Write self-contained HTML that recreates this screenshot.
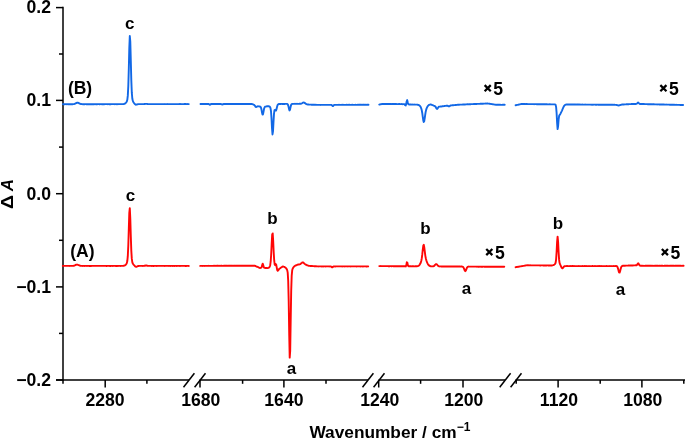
<!DOCTYPE html>
<html><head><meta charset="utf-8"><style>
html,body{margin:0;padding:0;background:#fff;}
body{width:685px;height:439px;overflow:hidden;}
svg{display:block;will-change:transform;}
text{font-family:"Liberation Sans",sans-serif;font-weight:bold;font-size:18px;fill:#000;}
</style></head><body>
<svg width="685" height="439" viewBox="0 0 685 439">
<g stroke="#000" stroke-width="1.5" fill="none" stroke-linecap="butt">
<line x1="63.0" y1="6.85" x2="63.0" y2="380.75" />
<line x1="56" y1="7.6" x2="63.0" y2="7.6" />
<line x1="56" y1="100.4" x2="63.0" y2="100.4" />
<line x1="56" y1="193.7" x2="63.0" y2="193.7" />
<line x1="56" y1="286.9" x2="63.0" y2="286.9" />
<line x1="56" y1="380.0" x2="63.0" y2="380.0" />
<line x1="59" y1="54.0" x2="63.0" y2="54.0" />
<line x1="59" y1="147.1" x2="63.0" y2="147.1" />
<line x1="59" y1="240.3" x2="63.0" y2="240.3" />
<line x1="59" y1="333.4" x2="63.0" y2="333.4" />
<line x1="56" y1="380.0" x2="189" y2="380.0" />
<line x1="199.5" y1="380.0" x2="368" y2="380.0" />
<line x1="378.5" y1="380.0" x2="505" y2="380.0" />
<line x1="515.5" y1="380.0" x2="686" y2="380.0" />
<line x1="183.5" y1="387.3" x2="194.4" y2="373.3" />
<line x1="194.6" y1="387.3" x2="205.5" y2="373.3" />
<line x1="362.5" y1="387.3" x2="373.4" y2="373.3" />
<line x1="373.6" y1="387.3" x2="384.5" y2="373.3" />
<line x1="499.7" y1="387.3" x2="510.6" y2="373.3" />
<line x1="510.6" y1="387.3" x2="521.5" y2="373.3" />
<line x1="105.2" y1="380.0" x2="105.2" y2="387.5" />
<line x1="200.0" y1="380.0" x2="200.0" y2="387.5" />
<line x1="283.9" y1="380.0" x2="283.9" y2="387.5" />
<line x1="378.7" y1="380.0" x2="378.7" y2="387.5" />
<line x1="463.0" y1="380.0" x2="463.0" y2="387.5" />
<line x1="558.1" y1="380.0" x2="558.1" y2="387.5" />
<line x1="641.9" y1="380.0" x2="641.9" y2="387.5" />
<line x1="63.0" y1="380.0" x2="63.0" y2="383.8" />
<line x1="146.9" y1="380.0" x2="146.9" y2="383.8" />
<line x1="242.6" y1="380.0" x2="242.6" y2="383.8" />
<line x1="326.0" y1="380.0" x2="326.0" y2="383.8" />
<line x1="420.6" y1="380.0" x2="420.6" y2="383.8" />
<line x1="516.2" y1="380.0" x2="516.2" y2="383.8" />
<line x1="600.2" y1="380.0" x2="600.2" y2="383.8" />
<line x1="683.8" y1="380.0" x2="683.8" y2="383.8" />
</g>
<g fill="none" stroke="#1268e6" stroke-width="1.9" stroke-linejoin="round" stroke-linecap="round">
<path d="M62.80 104.17 L63.30 104.20 L63.80 104.19 L64.30 104.21 L64.80 104.21 L65.30 104.15 L65.80 104.15 L66.30 104.23 L66.80 104.17 L67.30 104.17 L67.80 104.25 L68.30 104.19 L68.80 104.23 L69.30 104.19 L69.80 104.21 L70.30 104.16 L70.80 104.21 L71.30 104.23 L71.80 104.19 L72.30 104.21 L72.80 104.18 L73.30 104.09 L73.80 104.10 L74.30 103.97 L74.80 103.77 L75.30 103.51 L75.80 103.32 L76.30 103.00 L76.80 102.81 L77.30 102.73 L77.80 102.76 L78.30 102.95 L78.80 103.15 L79.30 103.48 L79.80 103.69 L80.30 103.94 L80.80 104.07 L81.30 104.07 L81.80 104.11 L82.30 104.14 L82.80 104.23 L83.30 104.18 L83.80 104.20 L84.30 104.16 L84.80 104.18 L85.30 104.17 L85.80 104.17 L86.30 104.19 L86.80 104.19 L87.30 104.22 L87.80 104.20 L88.30 104.22 L88.80 104.21 L89.30 104.23 L89.80 104.20 L90.30 104.14 L90.80 104.21 L91.30 104.22 L91.80 104.22 L92.30 104.18 L92.80 104.20 L93.30 104.15 L93.80 104.21 L94.30 104.18 L94.80 104.15 L95.30 104.13 L95.80 104.21 L96.30 104.22 L96.80 104.13 L97.30 104.20 L97.80 104.16 L98.30 104.14 L98.80 104.15 L99.30 104.20 L99.80 104.21 L100.30 104.12 L100.80 104.18 L101.30 104.12 L101.80 104.19 L102.30 104.15 L102.80 104.21 L103.30 104.22 L103.80 104.17 L104.30 104.22 L104.80 104.15 L105.30 104.12 L105.80 104.18 L106.30 104.12 L106.80 104.13 L107.30 104.16 L107.80 104.18 L108.30 104.13 L108.80 104.12 L109.30 104.20 L109.80 104.14 L110.30 104.21 L110.80 104.20 L111.30 104.15 L111.80 104.16 L112.30 104.16 L112.80 104.17 L113.30 104.17 L113.80 104.17 L114.30 104.17 L114.80 104.20 L115.30 104.16 L115.80 104.15 L116.30 104.18 L116.80 104.13 L117.30 104.14 L117.80 104.20 L118.30 104.16 L118.80 104.16 L119.30 104.11 L119.80 104.15 L120.30 104.16 L120.80 104.10 L121.30 104.16 L121.80 104.16 L122.30 104.09 L122.80 104.13 L123.30 104.07 L123.80 104.02 L124.30 103.86 L124.80 103.69 L125.30 103.39 L125.80 102.87 L126.30 102.25 L126.80 101.41 L127.30 99.77 L127.80 95.64 L128.30 86.11 L128.80 68.84 L129.30 48.14 L129.80 36.02 L130.30 41.53 L130.80 60.39 L131.30 80.10 L131.80 92.68 L132.30 98.52 L132.80 100.90 L133.30 101.96 L133.80 102.79 L134.30 103.45 L134.80 103.96 L135.30 104.39 L135.80 104.68 L136.30 104.63 L136.80 104.48 L137.30 104.34 L137.80 104.24 L138.30 104.13 L138.80 104.13 L139.30 104.12 L139.80 104.17 L140.30 104.13 L140.80 104.17 L141.30 104.10 L141.80 104.12 L142.30 104.15 L142.80 104.17 L143.30 104.13 L143.80 104.10 L144.30 104.07 L144.80 104.04 L145.30 103.90 L145.80 103.87 L146.30 103.89 L146.80 103.92 L147.30 104.03 L147.80 104.14 L148.30 104.14 L148.80 104.16 L149.30 104.12 L149.80 104.09 L150.30 104.11 L150.80 104.16 L151.30 104.11 L151.80 104.11 L152.30 104.12 L152.80 104.12 L153.30 104.12 L153.80 104.17 L154.30 104.09 L154.80 104.08 L155.30 104.17 L155.80 104.16 L156.30 104.17 L156.80 104.12 L157.30 104.17 L157.80 104.17 L158.30 104.10 L158.80 104.15 L159.30 104.16 L159.80 104.14 L160.30 104.12 L160.80 104.10 L161.30 104.11 L161.80 104.09 L162.30 104.08 L162.80 104.13 L163.30 104.10 L163.80 104.15 L164.30 104.07 L164.80 104.16 L165.30 104.14 L165.80 104.16 L166.30 104.16 L166.80 104.16 L167.30 104.12 L167.80 104.07 L168.30 104.14 L168.80 104.08 L169.30 104.10 L169.80 104.13 L170.30 104.12 L170.80 104.11 L171.30 104.16 L171.80 104.12 L172.30 104.10 L172.80 104.09 L173.30 104.15 L173.80 104.11 L174.30 104.14 L174.80 104.10 L175.30 104.08 L175.80 104.11 L176.30 104.14 L176.80 104.08 L177.30 104.14 L177.80 104.15 L178.30 104.14 L178.80 104.14 L179.30 104.06 L179.80 104.12 L180.30 104.14 L180.80 104.06 L181.30 104.08 L181.80 104.08 L182.30 104.11 L182.80 104.10 L183.30 104.10 L183.80 104.13 L184.30 104.05 L184.80 104.06 L185.30 104.07 L185.80 104.06 L186.30 104.06 L186.80 104.15 L187.30 104.14 L187.80 104.06 L188.30 104.10 L188.80 104.08"/>
<path d="M200.50 103.98 L201.00 103.99 L201.50 104.01 L202.00 104.01 L202.50 103.99 L203.00 103.97 L203.50 103.98 L204.00 103.96 L204.50 104.01 L205.00 104.02 L205.50 103.99 L206.00 103.96 L206.50 103.97 L207.00 103.99 L207.50 104.01 L208.00 104.03 L208.50 104.00 L209.00 104.19 L209.50 104.59 L210.00 104.78 L210.50 104.38 L211.00 104.07 L211.50 104.03 L212.00 103.99 L212.50 104.02 L213.00 104.00 L213.50 103.97 L214.00 104.00 L214.50 104.02 L215.00 103.96 L215.50 103.99 L216.00 103.99 L216.50 104.04 L217.00 104.04 L217.50 103.99 L218.00 104.04 L218.50 104.03 L219.00 103.98 L219.50 104.00 L220.00 103.96 L220.50 104.03 L221.00 104.04 L221.50 104.21 L222.00 104.53 L222.50 104.57 L223.00 104.25 L223.50 104.04 L224.00 103.96 L224.50 104.01 L225.00 103.95 L225.50 103.96 L226.00 104.03 L226.50 103.95 L227.00 103.96 L227.50 103.96 L228.00 104.04 L228.50 103.97 L229.00 103.95 L229.50 104.03 L230.00 103.96 L230.50 104.03 L231.00 104.02 L231.50 104.03 L232.00 104.05 L232.50 104.01 L233.00 104.03 L233.50 103.95 L234.00 104.03 L234.50 104.00 L235.00 104.02 L235.50 103.96 L236.00 104.02 L236.50 104.04 L237.00 103.96 L237.50 103.98 L238.00 104.01 L238.50 104.03 L239.00 103.97 L239.50 103.97 L240.00 103.97 L240.50 104.01 L241.00 104.03 L241.50 103.99 L242.00 103.99 L242.50 103.99 L243.00 103.99 L243.50 103.99 L244.00 103.96 L244.50 104.00 L245.00 104.05 L245.50 103.99 L246.00 104.02 L246.50 103.97 L247.00 104.02 L247.50 104.03 L248.00 104.02 L248.50 104.00 L249.00 104.00 L249.50 104.01 L250.00 104.04 L250.50 103.96 L251.00 103.96 L251.50 104.02 L252.00 104.04 L252.50 104.22 L253.00 104.43 L253.50 104.69 L254.00 104.88 L254.50 105.25 L255.00 105.86 L255.50 106.65 L256.00 107.03 L256.50 106.85 L257.00 106.60 L257.50 106.39 L258.00 106.29 L258.50 106.37 L259.00 106.39 L259.50 106.49 L260.00 106.56 L260.50 106.82 L261.00 107.70 L261.50 109.61 L262.00 112.49 L262.50 114.63 L263.00 114.33 L263.50 111.87 L264.00 109.10 L264.50 107.44 L265.00 106.70 L265.50 106.60 L266.00 106.52 L266.50 106.39 L267.00 106.27 L267.50 106.22 L268.00 106.18 L268.50 106.18 L269.00 106.29 L269.50 106.54 L270.00 106.97 L270.50 108.06 L271.00 111.25 L271.50 118.31 L272.00 128.15 L272.50 134.44 L273.00 131.43 L273.50 122.01 L274.00 113.65 L274.50 110.03 L275.00 109.86 L275.50 110.65 L276.00 110.62 L276.50 109.16 L277.00 107.02 L277.50 105.35 L278.00 104.49 L278.50 104.16 L279.00 104.00 L279.50 104.03 L280.00 103.96 L280.50 103.97 L281.00 103.99 L281.50 103.92 L282.00 103.92 L282.50 103.99 L283.00 103.93 L283.50 103.93 L284.00 103.95 L284.50 103.96 L285.00 103.88 L285.50 103.91 L286.00 103.92 L286.50 103.92 L287.00 103.92 L287.50 104.13 L288.00 104.85 L288.50 106.46 L289.00 108.88 L289.50 110.40 L290.00 109.69 L290.50 107.41 L291.00 105.27 L291.50 104.31 L292.00 103.99 L292.50 103.84 L293.00 103.91 L293.50 103.85 L294.00 103.88 L294.50 103.87 L295.00 103.82 L295.50 103.86 L296.00 103.85 L296.50 103.86 L297.00 103.80 L297.50 103.85 L298.00 103.86 L298.50 103.83 L299.00 103.81 L299.50 103.75 L300.00 103.76 L300.50 103.73 L301.00 103.69 L301.50 103.54 L302.00 103.28 L302.50 102.95 L303.00 102.72 L303.50 102.56 L304.00 102.54 L304.50 102.83 L305.00 103.15 L305.50 103.49 L306.00 103.91 L306.50 104.09 L307.00 104.29 L307.50 104.44 L308.00 104.50 L308.50 104.56 L309.00 104.61 L309.50 104.61 L310.00 104.61 L310.50 104.62 L311.00 104.62 L311.50 104.70 L312.00 104.73 L312.50 104.72 L313.00 104.76 L313.50 104.74 L314.00 104.74 L314.50 104.77 L315.00 104.84 L315.50 104.77 L316.00 104.83 L316.50 104.82 L317.00 104.89 L317.50 104.87 L318.00 104.88 L318.50 104.89 L319.00 104.90 L319.50 104.92 L320.00 104.88 L320.50 104.93 L321.00 104.86 L321.50 104.87 L322.00 104.85 L322.50 104.85 L323.00 104.92 L323.50 104.91 L324.00 104.86 L324.50 104.86 L325.00 104.88 L325.50 104.91 L326.00 104.92 L326.50 104.91 L327.00 104.89 L327.50 104.85 L328.00 104.87 L328.50 104.85 L329.00 104.88 L329.50 104.88 L330.00 104.85 L330.50 104.85 L331.00 104.92 L331.50 104.94 L332.00 105.40 L332.50 105.97 L333.00 106.05 L333.50 105.47 L334.00 105.04 L334.50 104.90 L335.00 104.88 L335.50 104.91 L336.00 104.88 L336.50 104.84 L337.00 104.90 L337.50 104.86 L338.00 104.87 L338.50 104.88 L339.00 104.81 L339.50 104.88 L340.00 104.87 L340.50 104.85 L341.00 104.86 L341.50 104.85 L342.00 104.82 L342.50 104.85 L343.00 104.80 L343.50 104.85 L344.00 104.86 L344.50 104.84 L345.00 104.85 L345.50 104.89 L346.00 104.88 L346.50 104.81 L347.00 104.87 L347.50 104.85 L348.00 104.80 L348.50 104.83 L349.00 104.81 L349.50 104.80 L350.00 104.84 L350.50 104.88 L351.00 104.82 L351.50 104.87 L352.00 104.85 L352.50 104.79 L353.00 104.87 L353.50 104.84 L354.00 104.87 L354.50 104.85 L355.00 104.85 L355.50 104.81 L356.00 104.86 L356.50 104.87 L357.00 104.86 L357.50 104.82 L358.00 104.85 L358.50 104.82 L359.00 104.78 L359.50 104.77 L360.00 104.77 L360.50 104.79 L361.00 104.78 L361.50 104.81 L362.00 104.83 L362.50 104.82 L363.00 104.80 L363.50 104.82 L364.00 104.79 L364.50 104.80 L365.00 104.83 L365.50 104.80 L366.00 104.77 L366.50 104.84 L367.00 104.82 L367.50 104.79 L368.00 104.79 L368.50 104.80"/>
<path d="M379.20 104.61 L379.70 104.47 L380.20 104.34 L380.70 104.25 L381.20 104.20 L381.70 104.03 L382.20 104.00 L382.70 103.97 L383.20 103.98 L383.70 103.98 L384.20 104.00 L384.70 103.98 L385.20 103.97 L385.70 103.98 L386.20 103.99 L386.70 104.02 L387.20 103.98 L387.70 103.98 L388.20 104.03 L388.70 104.02 L389.20 104.06 L389.70 103.99 L390.20 104.03 L390.70 104.03 L391.20 104.00 L391.70 104.10 L392.20 104.02 L392.70 104.01 L393.20 104.05 L393.70 104.02 L394.20 104.07 L394.70 104.05 L395.20 104.03 L395.70 104.02 L396.20 104.09 L396.70 104.05 L397.20 104.10 L397.70 104.08 L398.20 104.12 L398.70 104.06 L399.20 104.06 L399.70 104.07 L400.20 104.12 L400.70 104.11 L401.20 104.08 L401.70 104.06 L402.20 104.13 L402.70 104.18 L403.20 104.17 L403.70 104.14 L404.20 104.19 L404.70 104.47 L405.20 105.24 L405.70 105.52 L406.20 104.08 L406.70 101.28 L407.20 100.10 L407.70 102.21 L408.20 104.07 L408.70 104.41 L409.20 104.49 L409.70 104.53 L410.20 104.55 L410.70 104.49 L411.20 104.54 L411.70 104.60 L412.20 104.64 L412.70 104.56 L413.20 104.58 L413.70 104.64 L414.20 104.56 L414.70 104.59 L415.20 104.59 L415.70 104.62 L416.20 104.66 L416.70 104.60 L417.20 104.69 L417.70 104.75 L418.20 104.86 L418.70 105.01 L419.20 105.32 L419.70 105.68 L420.20 106.27 L420.70 107.07 L421.20 108.29 L421.70 110.03 L422.20 112.71 L422.70 116.32 L423.20 119.98 L423.70 121.98 L424.20 121.30 L424.70 118.35 L425.20 114.76 L425.70 111.69 L426.20 109.63 L426.70 108.11 L427.20 107.08 L427.70 106.28 L428.20 105.65 L428.70 105.14 L429.20 104.84 L429.70 104.70 L430.20 104.56 L430.70 104.51 L431.20 104.57 L431.70 104.74 L432.20 105.01 L432.70 105.22 L433.20 105.41 L433.70 105.65 L434.20 105.81 L434.70 105.99 L435.20 106.38 L435.70 106.97 L436.20 107.99 L436.70 108.77 L437.20 108.92 L437.70 108.38 L438.20 107.49 L438.70 106.85 L439.20 106.60 L439.70 106.61 L440.20 106.59 L440.70 106.46 L441.20 106.42 L441.70 106.43 L442.20 106.29 L442.70 106.26 L443.20 106.18 L443.70 106.15 L444.20 106.07 L444.70 106.02 L445.20 105.93 L445.70 105.84 L446.20 105.77 L446.70 105.71 L447.20 105.78 L447.70 105.82 L448.20 106.04 L448.70 106.35 L449.20 106.27 L449.70 106.06 L450.20 105.66 L450.70 105.48 L451.20 105.35 L451.70 105.35 L452.20 105.29 L452.70 105.25 L453.20 105.22 L453.70 105.19 L454.20 105.10 L454.70 105.08 L455.20 105.02 L455.70 104.95 L456.20 104.98 L456.70 104.92 L457.20 104.90 L457.70 104.80 L458.20 104.79 L458.70 104.76 L459.20 104.76 L459.70 104.67 L460.20 104.67 L460.70 104.66 L461.20 104.60 L461.70 104.62 L462.20 104.61 L462.70 104.56 L463.20 104.55 L463.70 104.53 L464.20 104.46 L464.70 104.45 L465.20 104.49 L465.70 104.40 L466.20 104.38 L466.70 104.32 L467.20 104.31 L467.70 104.28 L468.20 104.33 L468.70 104.29 L469.20 104.28 L469.70 104.26 L470.20 104.20 L470.70 104.22 L471.20 104.16 L471.70 104.13 L472.20 104.16 L472.70 104.14 L473.20 104.12 L473.70 104.05 L474.20 104.06 L474.70 104.01 L475.20 104.05 L475.70 104.02 L476.20 103.94 L476.70 103.98 L477.20 103.89 L477.70 103.86 L478.20 103.90 L478.70 103.84 L479.20 103.84 L479.70 103.84 L480.20 103.76 L480.70 103.81 L481.20 103.74 L481.70 103.74 L482.20 103.71 L482.70 103.73 L483.20 103.71 L483.70 103.65 L484.20 103.61 L484.70 103.61 L485.20 103.60 L485.70 103.55 L486.20 103.54 L486.70 103.58 L487.20 103.55 L487.70 103.56 L488.20 103.58 L488.70 103.65 L489.20 103.68 L489.70 103.74 L490.20 103.84 L490.70 103.94 L491.20 104.02 L491.70 104.11 L492.20 104.17 L492.70 104.30 L493.20 104.32 L493.70 104.42 L494.20 104.55 L494.70 104.62 L495.20 104.65 L495.70 104.73 L496.20 104.83 L496.70 104.75 L497.20 104.76 L497.70 104.80 L498.20 104.80 L498.70 104.77 L499.20 104.76 L499.70 104.77 L500.20 104.83 L500.70 104.80 L501.20 104.85 L501.70 104.83 L502.20 104.85 L502.70 104.75 L503.20 104.77 L503.70 104.75 L504.20 104.79 L504.70 104.78"/>
<path d="M515.60 105.26 L516.10 105.19 L516.60 105.03 L517.10 104.94 L517.60 104.82 L518.10 104.76 L518.60 104.61 L519.10 104.48 L519.60 104.34 L520.10 104.27 L520.60 104.17 L521.10 104.06 L521.60 104.04 L522.10 104.04 L522.60 103.99 L523.10 103.98 L523.60 104.05 L524.10 104.06 L524.60 104.04 L525.10 104.08 L525.60 104.06 L526.10 104.03 L526.60 104.03 L527.10 104.02 L527.60 104.09 L528.10 104.12 L528.60 104.13 L529.10 104.09 L529.60 104.12 L530.10 104.15 L530.60 104.14 L531.10 104.13 L531.60 104.11 L532.10 104.13 L532.60 104.10 L533.10 104.11 L533.60 104.16 L534.10 104.20 L534.60 104.16 L535.10 104.15 L535.60 104.15 L536.10 104.17 L536.60 104.21 L537.10 104.18 L537.60 104.24 L538.10 104.16 L538.60 104.19 L539.10 104.21 L539.60 104.21 L540.10 104.26 L540.60 104.26 L541.10 104.28 L541.60 104.25 L542.10 104.20 L542.60 104.26 L543.10 104.26 L543.60 104.26 L544.10 104.25 L544.60 104.30 L545.10 104.32 L545.60 104.25 L546.10 104.31 L546.60 104.29 L547.10 104.31 L547.60 104.35 L548.10 104.36 L548.60 104.34 L549.10 104.30 L549.60 104.38 L550.10 104.31 L550.60 104.34 L551.10 104.39 L551.60 104.34 L552.10 104.34 L552.60 104.42 L553.10 104.42 L553.60 104.37 L554.10 104.38 L554.60 104.39 L555.10 104.44 L555.60 104.85 L556.10 106.92 L556.60 112.88 L557.10 122.76 L557.60 129.12 L558.10 126.30 L558.60 119.72 L559.10 116.01 L559.60 115.00 L560.10 114.34 L560.60 113.45 L561.10 112.37 L561.60 111.38 L562.10 110.33 L562.60 109.03 L563.10 107.84 L563.60 106.79 L564.10 105.92 L564.60 105.34 L565.10 104.90 L565.60 104.68 L566.10 104.63 L566.60 104.49 L567.10 104.54 L567.60 104.46 L568.10 104.54 L568.60 104.51 L569.10 104.51 L569.60 104.46 L570.10 104.46 L570.60 104.53 L571.10 104.47 L571.60 104.48 L572.10 104.55 L572.60 104.55 L573.10 104.48 L573.60 104.57 L574.10 104.53 L574.60 104.52 L575.10 104.49 L575.60 104.53 L576.10 104.59 L576.60 104.52 L577.10 104.51 L577.60 104.52 L578.10 104.52 L578.60 104.54 L579.10 104.60 L579.60 104.52 L580.10 104.54 L580.60 104.61 L581.10 104.62 L581.60 104.63 L582.10 104.56 L582.60 104.57 L583.10 104.63 L583.60 104.59 L584.10 104.61 L584.60 104.58 L585.10 104.55 L585.60 104.59 L586.10 104.63 L586.60 104.64 L587.10 104.62 L587.60 104.61 L588.10 104.62 L588.60 104.62 L589.10 104.63 L589.60 104.66 L590.10 104.60 L590.60 104.65 L591.10 104.68 L591.60 104.68 L592.10 104.62 L592.60 104.70 L593.10 104.69 L593.60 104.62 L594.10 104.64 L594.60 104.63 L595.10 104.62 L595.60 104.72 L596.10 104.66 L596.60 104.71 L597.10 104.64 L597.60 104.64 L598.10 104.72 L598.60 104.72 L599.10 104.74 L599.60 104.72 L600.10 104.70 L600.60 104.73 L601.10 104.67 L601.60 104.71 L602.10 104.71 L602.60 104.68 L603.10 104.73 L603.60 104.71 L604.10 104.73 L604.60 104.72 L605.10 104.72 L605.60 104.72 L606.10 104.75 L606.60 104.79 L607.10 104.79 L607.60 104.79 L608.10 104.79 L608.60 104.74 L609.10 104.81 L609.60 104.74 L610.10 104.73 L610.60 104.77 L611.10 104.80 L611.60 104.76 L612.10 104.80 L612.60 104.76 L613.10 104.83 L613.60 104.79 L614.10 104.80 L614.60 104.81 L615.10 104.86 L615.60 104.89 L616.10 104.90 L616.60 104.99 L617.10 105.14 L617.60 105.23 L618.10 105.39 L618.60 105.48 L619.10 105.42 L619.60 105.21 L620.10 105.10 L620.60 104.87 L621.10 104.77 L621.60 104.60 L622.10 104.51 L622.60 104.50 L623.10 104.50 L623.60 104.43 L624.10 104.45 L624.60 104.41 L625.10 104.35 L625.60 104.33 L626.10 104.32 L626.60 104.29 L627.10 104.27 L627.60 104.28 L628.10 104.28 L628.60 104.23 L629.10 104.16 L629.60 104.15 L630.10 104.14 L630.60 104.14 L631.10 104.07 L631.60 104.05 L632.10 104.05 L632.60 104.02 L633.10 103.98 L633.60 104.01 L634.10 104.02 L634.60 103.96 L635.10 103.96 L635.60 103.95 L636.10 103.91 L636.60 103.81 L637.10 103.42 L637.60 102.87 L638.10 102.51 L638.60 102.91 L639.10 103.46 L639.60 103.84 L640.10 104.01 L640.60 103.98 L641.10 103.99 L641.60 104.06 L642.10 104.05 L642.60 104.01 L643.10 104.02 L643.60 104.06 L644.10 104.04 L644.60 104.13 L645.10 104.08 L645.60 104.10 L646.10 104.13 L646.60 104.15 L647.10 104.15 L647.60 104.18 L648.10 104.20 L648.60 104.19 L649.10 104.17 L649.60 104.27 L650.10 104.25 L650.60 104.20 L651.10 104.25 L651.60 104.29 L652.10 104.33 L652.60 104.25 L653.10 104.25 L653.60 104.31 L654.10 104.32 L654.60 104.37 L655.10 104.38 L655.60 104.34 L656.10 104.36 L656.60 104.39 L657.10 104.43 L657.60 104.38 L658.10 104.41 L658.60 104.39 L659.10 104.45 L659.60 104.40 L660.10 104.51 L660.60 104.48 L661.10 104.49 L661.60 104.46 L662.10 104.48 L662.60 104.52 L663.10 104.57 L663.60 104.55 L664.10 104.54 L664.60 104.62 L665.10 104.60 L665.60 104.60 L666.10 104.57 L666.60 104.60 L667.10 104.67 L667.60 104.60 L668.10 104.65 L668.60 104.67 L669.10 104.66 L669.60 104.71 L670.10 104.74 L670.60 104.75 L671.10 104.75 L671.60 104.70 L672.10 104.70 L672.60 104.75 L673.10 104.75 L673.60 104.75 L674.10 104.83 L674.60 104.78 L675.10 104.85 L675.60 104.87 L676.10 104.80 L676.60 104.89 L677.10 104.85 L677.60 104.84 L678.10 104.85 L678.60 104.85 L679.10 104.91 L679.60 104.91 L680.10 104.97 L680.60 104.98 L681.10 104.91 L681.60 104.96 L682.10 104.97 L682.60 104.96 L683.10 104.98"/>
</g>
<g fill="none" stroke="#ff0606" stroke-width="1.9" stroke-linejoin="round" stroke-linecap="round">
<path d="M62.80 265.88 L63.30 265.92 L63.80 265.88 L64.30 265.86 L64.80 265.87 L65.30 265.89 L65.80 265.91 L66.30 265.87 L66.80 265.92 L67.30 265.87 L67.80 265.92 L68.30 265.91 L68.80 265.87 L69.30 265.93 L69.80 265.89 L70.30 265.90 L70.80 265.91 L71.30 265.91 L71.80 265.89 L72.30 265.84 L72.80 265.89 L73.30 265.85 L73.80 265.72 L74.30 265.59 L74.80 265.37 L75.30 265.20 L75.80 264.94 L76.30 264.69 L76.80 264.64 L77.30 264.67 L77.80 264.74 L78.30 265.02 L78.80 265.21 L79.30 265.41 L79.80 265.64 L80.30 265.73 L80.80 265.85 L81.30 265.87 L81.80 265.85 L82.30 265.90 L82.80 265.93 L83.30 265.90 L83.80 265.90 L84.30 265.94 L84.80 265.89 L85.30 265.90 L85.80 265.91 L86.30 265.93 L86.80 265.87 L87.30 265.86 L87.80 265.93 L88.30 265.91 L88.80 265.88 L89.30 265.94 L89.80 265.94 L90.30 265.90 L90.80 265.95 L91.30 265.93 L91.80 265.92 L92.30 265.88 L92.80 265.85 L93.30 265.92 L93.80 265.92 L94.30 265.89 L94.80 265.90 L95.30 265.91 L95.80 265.87 L96.30 265.92 L96.80 265.91 L97.30 265.89 L97.80 265.86 L98.30 265.91 L98.80 265.88 L99.30 265.92 L99.80 265.87 L100.30 265.89 L100.80 265.87 L101.30 265.89 L101.80 265.91 L102.30 265.86 L102.80 265.86 L103.30 265.90 L103.80 265.87 L104.30 265.90 L104.80 265.87 L105.30 265.86 L105.80 265.90 L106.30 265.94 L106.80 265.94 L107.30 265.90 L107.80 265.89 L108.30 265.86 L108.80 265.88 L109.30 265.88 L109.80 265.94 L110.30 265.86 L110.80 265.94 L111.30 265.90 L111.80 265.89 L112.30 265.88 L112.80 265.95 L113.30 265.87 L113.80 265.91 L114.30 265.90 L114.80 265.87 L115.30 265.87 L115.80 265.95 L116.30 265.93 L116.80 265.92 L117.30 265.94 L117.80 265.86 L118.30 265.92 L118.80 265.93 L119.30 265.87 L119.80 265.90 L120.30 265.95 L120.80 265.88 L121.30 265.92 L121.80 265.86 L122.30 265.90 L122.80 265.83 L123.30 265.81 L123.80 265.72 L124.30 265.64 L124.80 265.42 L125.30 265.09 L125.80 264.67 L126.30 264.03 L126.80 263.12 L127.30 261.08 L127.80 256.17 L128.30 245.50 L128.80 228.83 L129.30 212.84 L129.80 208.19 L130.30 218.49 L130.80 235.94 L131.30 250.61 L131.80 258.68 L132.30 262.16 L132.80 263.58 L133.30 264.36 L133.80 264.92 L134.30 265.42 L134.80 265.98 L135.30 266.47 L135.80 266.79 L136.30 266.76 L136.80 266.56 L137.30 266.36 L137.80 266.12 L138.30 265.97 L138.80 265.94 L139.30 265.87 L139.80 265.90 L140.30 265.92 L140.80 265.91 L141.30 265.87 L141.80 265.86 L142.30 265.91 L142.80 265.94 L143.30 265.86 L143.80 265.84 L144.30 265.81 L144.80 265.77 L145.30 265.55 L145.80 265.41 L146.30 265.48 L146.80 265.61 L147.30 265.74 L147.80 265.88 L148.30 265.84 L148.80 265.88 L149.30 265.92 L149.80 265.87 L150.30 265.85 L150.80 265.90 L151.30 265.88 L151.80 265.95 L152.30 265.86 L152.80 265.93 L153.30 265.89 L153.80 265.93 L154.30 265.89 L154.80 265.92 L155.30 265.88 L155.80 265.87 L156.30 265.90 L156.80 265.93 L157.30 265.88 L157.80 265.87 L158.30 265.89 L158.80 265.86 L159.30 265.88 L159.80 265.91 L160.30 265.90 L160.80 265.91 L161.30 265.88 L161.80 265.85 L162.30 265.85 L162.80 265.88 L163.30 265.87 L163.80 265.91 L164.30 265.88 L164.80 265.93 L165.30 265.91 L165.80 265.92 L166.30 265.92 L166.80 265.90 L167.30 265.89 L167.80 265.88 L168.30 265.86 L168.80 265.93 L169.30 265.90 L169.80 265.86 L170.30 265.94 L170.80 265.91 L171.30 265.91 L171.80 265.89 L172.30 265.86 L172.80 265.95 L173.30 265.87 L173.80 265.89 L174.30 265.95 L174.80 265.86 L175.30 265.90 L175.80 265.90 L176.30 265.87 L176.80 265.94 L177.30 265.89 L177.80 265.85 L178.30 265.90 L178.80 265.85 L179.30 265.92 L179.80 265.94 L180.30 265.94 L180.80 265.85 L181.30 265.92 L181.80 265.88 L182.30 265.90 L182.80 265.88 L183.30 265.88 L183.80 265.86 L184.30 265.91 L184.80 265.86 L185.30 265.95 L185.80 265.85 L186.30 265.95 L186.80 265.87 L187.30 265.86 L187.80 265.92 L188.30 265.90 L188.80 265.93"/>
<path d="M200.20 265.90 L200.70 265.91 L201.20 265.85 L201.70 265.91 L202.20 265.89 L202.70 265.94 L203.20 265.84 L203.70 265.84 L204.20 265.90 L204.70 265.93 L205.20 265.87 L205.70 265.90 L206.20 265.88 L206.70 265.87 L207.20 265.87 L207.70 265.88 L208.20 265.82 L208.70 265.85 L209.20 265.89 L209.70 265.84 L210.20 265.86 L210.70 265.84 L211.20 265.85 L211.70 265.87 L212.20 265.88 L212.70 265.90 L213.20 265.85 L213.70 265.82 L214.20 265.83 L214.70 265.80 L215.20 265.82 L215.70 265.85 L216.20 265.85 L216.70 265.81 L217.20 265.81 L217.70 265.80 L218.20 265.80 L218.70 265.83 L219.20 265.81 L219.70 265.87 L220.20 265.83 L220.70 265.81 L221.20 265.82 L221.70 265.78 L222.20 265.84 L222.70 265.84 L223.20 265.80 L223.70 265.84 L224.20 265.79 L224.70 265.78 L225.20 265.78 L225.70 265.78 L226.20 265.82 L226.70 265.82 L227.20 265.82 L227.70 265.76 L228.20 265.82 L228.70 265.79 L229.20 265.78 L229.70 265.79 L230.20 265.78 L230.70 265.76 L231.20 265.78 L231.70 265.80 L232.20 265.80 L232.70 265.82 L233.20 265.75 L233.70 265.82 L234.20 265.81 L234.70 265.80 L235.20 265.82 L235.70 265.73 L236.20 265.80 L236.70 265.81 L237.20 265.73 L237.70 265.77 L238.20 265.81 L238.70 265.74 L239.20 265.79 L239.70 265.80 L240.20 265.75 L240.70 265.72 L241.20 265.72 L241.70 265.78 L242.20 265.74 L242.70 265.73 L243.20 265.74 L243.70 265.78 L244.20 265.71 L244.70 265.69 L245.20 265.78 L245.70 265.72 L246.20 265.72 L246.70 265.78 L247.20 265.71 L247.70 265.69 L248.20 265.76 L248.70 265.70 L249.20 265.69 L249.70 265.76 L250.20 265.69 L250.70 265.76 L251.20 265.70 L251.70 265.69 L252.20 265.68 L252.70 265.71 L253.20 265.71 L253.70 265.69 L254.20 265.70 L254.70 265.68 L255.20 265.83 L255.70 266.09 L256.20 266.31 L256.70 266.56 L257.20 266.73 L257.70 267.00 L258.20 267.23 L258.70 267.47 L259.20 267.80 L259.70 267.94 L260.20 267.93 L260.70 267.88 L261.20 267.72 L261.70 267.04 L262.20 265.02 L262.70 263.67 L263.20 265.02 L263.70 266.99 L264.20 267.74 L264.70 267.81 L265.20 267.95 L265.70 267.95 L266.20 268.03 L266.70 268.01 L267.20 268.10 L267.70 268.01 L268.20 267.90 L268.70 267.75 L269.20 267.42 L269.70 266.78 L270.20 265.21 L270.70 261.49 L271.20 253.92 L271.70 243.33 L272.20 234.36 L272.70 233.42 L273.20 241.25 L273.70 252.17 L274.20 260.49 L274.70 264.56 L275.20 265.14 L275.70 264.11 L276.20 264.55 L276.70 267.32 L277.20 269.96 L277.70 270.86 L278.20 270.41 L278.70 269.58 L279.20 268.97 L279.70 268.51 L280.20 268.21 L280.70 267.83 L281.20 267.48 L281.70 267.15 L282.20 266.85 L282.70 266.46 L283.20 266.53 L283.70 266.72 L284.20 266.89 L284.70 267.18 L285.20 267.48 L285.70 267.87 L286.20 268.38 L286.70 269.09 L287.20 270.15 L287.70 272.66 L288.20 280.88 L288.70 301.36 L289.20 333.80 L289.70 357.65 L290.20 350.84 L290.70 319.86 L291.20 290.65 L291.70 275.59 L292.20 270.34 L292.70 268.59 L293.20 267.68 L293.70 267.01 L294.20 266.40 L294.70 266.03 L295.20 265.69 L295.70 265.50 L296.20 265.24 L296.70 265.05 L297.20 264.85 L297.70 264.67 L298.20 264.51 L298.70 264.53 L299.20 264.45 L299.70 264.29 L300.20 264.15 L300.70 263.73 L301.20 263.28 L301.70 262.89 L302.20 262.48 L302.70 262.39 L303.20 262.49 L303.70 262.90 L304.20 263.46 L304.70 263.88 L305.20 264.30 L305.70 264.60 L306.20 264.74 L306.70 265.04 L307.20 265.25 L307.70 265.43 L308.20 265.63 L308.70 265.81 L309.20 265.86 L309.70 265.91 L310.20 265.97 L310.70 266.04 L311.20 265.99 L311.70 266.06 L312.20 266.04 L312.70 266.14 L313.20 266.13 L313.70 266.16 L314.20 266.21 L314.70 266.18 L315.20 266.27 L315.70 266.30 L316.20 266.34 L316.70 266.31 L317.20 266.33 L317.70 266.35 L318.20 266.44 L318.70 266.39 L319.20 266.39 L319.70 266.40 L320.20 266.42 L320.70 266.38 L321.20 266.38 L321.70 266.43 L322.20 266.43 L322.70 266.38 L323.20 266.36 L323.70 266.44 L324.20 266.42 L324.70 266.41 L325.20 266.39 L325.70 266.45 L326.20 266.39 L326.70 266.37 L327.20 266.36 L327.70 266.39 L328.20 266.41 L328.70 266.39 L329.20 266.44 L329.70 266.42 L330.20 266.40 L330.70 266.46 L331.20 266.66 L331.70 267.12 L332.20 267.40 L332.70 267.11 L333.20 266.65 L333.70 266.48 L334.20 266.37 L334.70 266.43 L335.20 266.38 L335.70 266.43 L336.20 266.36 L336.70 266.40 L337.20 266.39 L337.70 266.42 L338.20 266.37 L338.70 266.38 L339.20 266.36 L339.70 266.41 L340.20 266.41 L340.70 266.35 L341.20 266.37 L341.70 266.37 L342.20 266.45 L342.70 266.40 L343.20 266.41 L343.70 266.38 L344.20 266.42 L344.70 266.43 L345.20 266.42 L345.70 266.35 L346.20 266.39 L346.70 266.40 L347.20 266.35 L347.70 266.43 L348.20 266.38 L348.70 266.38 L349.20 266.41 L349.70 266.41 L350.20 266.40 L350.70 266.44 L351.20 266.40 L351.70 266.38 L352.20 266.36 L352.70 266.41 L353.20 266.39 L353.70 266.40 L354.20 266.38 L354.70 266.35 L355.20 266.35 L355.70 266.37 L356.20 266.36 L356.70 266.44 L357.20 266.41 L357.70 266.37 L358.20 266.42 L358.70 266.41 L359.20 266.36 L359.70 266.43 L360.20 266.37 L360.70 266.45 L361.20 266.36 L361.70 266.38 L362.20 266.37 L362.70 266.44 L363.20 266.43 L363.70 266.41 L364.20 266.36 L364.70 266.39 L365.20 266.42 L365.70 266.36 L366.20 266.44 L366.70 266.43 L367.20 266.44 L367.70 266.42 L368.20 266.41"/>
<path d="M379.30 266.15 L379.80 266.08 L380.30 266.09 L380.80 266.07 L381.30 266.08 L381.80 266.14 L382.30 266.08 L382.80 266.14 L383.30 266.11 L383.80 266.16 L384.30 266.15 L384.80 266.15 L385.30 266.17 L385.80 266.09 L386.30 266.12 L386.80 266.13 L387.30 266.14 L387.80 266.16 L388.30 266.19 L388.80 266.18 L389.30 266.20 L389.80 266.18 L390.30 266.15 L390.80 266.17 L391.30 266.19 L391.80 266.20 L392.30 266.16 L392.80 266.16 L393.30 266.19 L393.80 266.15 L394.30 266.22 L394.80 266.14 L395.30 266.20 L395.80 266.19 L396.30 266.16 L396.80 266.20 L397.30 266.20 L397.80 266.25 L398.30 266.24 L398.80 266.22 L399.30 266.25 L399.80 266.25 L400.30 266.18 L400.80 266.25 L401.30 266.26 L401.80 266.27 L402.30 266.25 L402.80 266.22 L403.30 266.20 L403.80 266.25 L404.30 266.21 L404.80 266.27 L405.30 266.29 L405.80 266.45 L406.30 265.23 L406.80 262.31 L407.30 262.55 L407.80 265.02 L408.30 266.10 L408.80 266.26 L409.30 266.26 L409.80 266.28 L410.30 266.28 L410.80 266.25 L411.30 266.33 L411.80 266.32 L412.30 266.31 L412.80 266.27 L413.30 266.26 L413.80 266.32 L414.30 266.33 L414.80 266.31 L415.30 266.26 L415.80 266.31 L416.30 266.27 L416.80 266.22 L417.30 266.18 L417.80 266.05 L418.30 265.88 L418.80 265.59 L419.30 265.16 L419.80 264.43 L420.30 263.62 L420.80 262.50 L421.30 260.79 L421.80 258.15 L422.30 254.21 L422.80 249.33 L423.30 245.60 L423.80 244.86 L424.30 247.50 L424.80 251.71 L425.30 255.60 L425.80 258.29 L426.30 260.21 L426.80 261.63 L427.30 262.90 L427.80 263.90 L428.30 264.66 L428.80 265.29 L429.30 265.68 L429.80 265.98 L430.30 266.12 L430.80 266.30 L431.30 266.35 L431.80 266.39 L432.30 266.33 L432.80 266.38 L433.30 266.23 L433.80 266.10 L434.30 265.75 L434.80 265.20 L435.30 264.67 L435.80 264.28 L436.30 264.14 L436.80 264.37 L437.30 264.94 L437.80 265.47 L438.30 265.97 L438.80 266.20 L439.30 266.31 L439.80 266.46 L440.30 266.39 L440.80 266.42 L441.30 266.47 L441.80 266.41 L442.30 266.46 L442.80 266.49 L443.30 266.47 L443.80 266.45 L444.30 266.49 L444.80 266.50 L445.30 266.48 L445.80 266.48 L446.30 266.46 L446.80 266.47 L447.30 266.53 L447.80 266.53 L448.30 266.44 L448.80 266.46 L449.30 266.46 L449.80 266.52 L450.30 266.47 L450.80 266.47 L451.30 266.53 L451.80 266.47 L452.30 266.56 L452.80 266.51 L453.30 266.55 L453.80 266.55 L454.30 266.49 L454.80 266.55 L455.30 266.52 L455.80 266.50 L456.30 266.49 L456.80 266.55 L457.30 266.54 L457.80 266.52 L458.30 266.57 L458.80 266.51 L459.30 266.54 L459.80 266.51 L460.30 266.54 L460.80 266.59 L461.30 266.56 L461.80 266.54 L462.30 266.59 L462.80 266.78 L463.30 267.17 L463.80 268.10 L464.30 269.32 L464.80 270.67 L465.30 271.19 L465.80 270.68 L466.30 269.36 L466.80 268.04 L467.30 267.18 L467.80 266.81 L468.30 266.60 L468.80 266.57 L469.30 266.63 L469.80 266.64 L470.30 266.64 L470.80 266.65 L471.30 266.62 L471.80 266.65 L472.30 266.64 L472.80 266.63 L473.30 266.62 L473.80 266.58 L474.30 266.59 L474.80 266.61 L475.30 266.63 L475.80 266.60 L476.30 266.69 L476.80 266.65 L477.30 266.67 L477.80 266.69 L478.30 266.63 L478.80 266.69 L479.30 266.70 L479.80 266.64 L480.30 266.63 L480.80 266.70 L481.30 266.71 L481.80 266.70 L482.30 266.67 L482.80 266.69 L483.30 266.64 L483.80 266.66 L484.30 266.68 L484.80 266.71 L485.30 266.65 L485.80 266.74 L486.30 266.65 L486.80 266.75 L487.30 266.68 L487.80 266.74 L488.30 266.74 L488.80 266.76 L489.30 266.71 L489.80 266.74 L490.30 266.70 L490.80 266.76 L491.30 266.69 L491.80 266.77 L492.30 266.74 L492.80 266.69 L493.30 266.78 L493.80 266.72 L494.30 266.70 L494.80 266.72 L495.30 266.70 L495.80 266.73 L496.30 266.78 L496.80 266.81 L497.30 266.77 L497.80 266.80 L498.30 266.80 L498.80 266.79 L499.30 266.76 L499.80 266.75 L500.30 266.74 L500.80 266.78 L501.30 266.75 L501.80 266.81 L502.30 266.77 L502.80 266.80 L503.30 266.80 L503.80 266.81 L504.30 266.76"/>
<path d="M515.60 267.18 L516.10 267.13 L516.60 267.00 L517.10 266.96 L517.60 266.90 L518.10 266.76 L518.60 266.73 L519.10 266.61 L519.60 266.55 L520.10 266.43 L520.60 266.36 L521.10 266.27 L521.60 266.13 L522.10 266.08 L522.60 266.00 L523.10 265.90 L523.60 265.83 L524.10 265.77 L524.60 265.67 L525.10 265.59 L525.60 265.44 L526.10 265.41 L526.60 265.31 L527.10 265.35 L527.60 265.26 L528.10 265.28 L528.60 265.36 L529.10 265.31 L529.60 265.34 L530.10 265.33 L530.60 265.32 L531.10 265.33 L531.60 265.34 L532.10 265.39 L532.60 265.35 L533.10 265.38 L533.60 265.33 L534.10 265.38 L534.60 265.37 L535.10 265.39 L535.60 265.40 L536.10 265.33 L536.60 265.42 L537.10 265.39 L537.60 265.36 L538.10 265.38 L538.60 265.35 L539.10 265.36 L539.60 265.43 L540.10 265.42 L540.60 265.44 L541.10 265.37 L541.60 265.37 L542.10 265.40 L542.60 265.42 L543.10 265.44 L543.60 265.40 L544.10 265.45 L544.60 265.44 L545.10 265.41 L545.60 265.47 L546.10 265.40 L546.60 265.46 L547.10 265.42 L547.60 265.41 L548.10 265.45 L548.60 265.46 L549.10 265.48 L549.60 265.45 L550.10 265.51 L550.60 265.50 L551.10 265.43 L551.60 265.39 L552.10 265.45 L552.60 265.33 L553.10 265.18 L553.60 264.99 L554.10 264.77 L554.60 264.36 L555.10 263.85 L555.60 262.75 L556.10 259.49 L556.60 252.04 L557.10 241.82 L557.60 236.63 L558.10 241.85 L558.60 252.15 L559.10 259.67 L559.60 263.05 L560.10 264.43 L560.60 265.45 L561.10 266.55 L561.60 267.64 L562.10 268.22 L562.60 268.24 L563.10 267.70 L563.60 266.91 L564.10 266.44 L564.60 266.27 L565.10 266.09 L565.60 266.14 L566.10 266.11 L566.60 266.06 L567.10 266.11 L567.60 266.05 L568.10 266.13 L568.60 266.08 L569.10 266.14 L569.60 266.14 L570.10 266.06 L570.60 266.09 L571.10 266.07 L571.60 266.13 L572.10 266.06 L572.60 266.06 L573.10 266.06 L573.60 266.14 L574.10 266.07 L574.60 266.08 L575.10 266.09 L575.60 266.11 L576.10 266.09 L576.60 266.14 L577.10 266.08 L577.60 266.10 L578.10 266.14 L578.60 266.07 L579.10 266.07 L579.60 266.13 L580.10 266.08 L580.60 266.14 L581.10 266.13 L581.60 266.09 L582.10 266.08 L582.60 266.06 L583.10 266.14 L583.60 266.09 L584.10 266.08 L584.60 266.07 L585.10 266.07 L585.60 266.14 L586.10 266.06 L586.60 266.11 L587.10 266.11 L587.60 266.10 L588.10 266.10 L588.60 266.09 L589.10 266.07 L589.60 266.13 L590.10 266.14 L590.60 266.11 L591.10 266.08 L591.60 266.14 L592.10 266.07 L592.60 266.07 L593.10 266.11 L593.60 266.13 L594.10 266.11 L594.60 266.06 L595.10 266.15 L595.60 266.07 L596.10 266.08 L596.60 266.15 L597.10 266.13 L597.60 266.13 L598.10 266.06 L598.60 266.14 L599.10 266.09 L599.60 266.05 L600.10 266.13 L600.60 266.14 L601.10 266.05 L601.60 266.10 L602.10 266.14 L602.60 266.08 L603.10 266.08 L603.60 266.13 L604.10 266.09 L604.60 266.15 L605.10 266.14 L605.60 266.14 L606.10 266.12 L606.60 266.07 L607.10 266.12 L607.60 266.11 L608.10 266.10 L608.60 266.11 L609.10 266.08 L609.60 266.07 L610.10 266.14 L610.60 266.09 L611.10 266.06 L611.60 266.15 L612.10 266.10 L612.60 266.12 L613.10 266.08 L613.60 266.06 L614.10 266.08 L614.60 266.11 L615.10 266.04 L615.60 266.09 L616.10 266.03 L616.60 266.18 L617.10 266.44 L617.60 267.31 L618.10 268.83 L618.60 270.84 L619.10 272.42 L619.60 272.55 L620.10 271.20 L620.60 269.14 L621.10 267.43 L621.60 266.41 L622.10 266.02 L622.60 265.79 L623.10 265.77 L623.60 265.79 L624.10 265.74 L624.60 265.69 L625.10 265.75 L625.60 265.64 L626.10 265.62 L626.60 265.59 L627.10 265.62 L627.60 265.64 L628.10 265.57 L628.60 265.55 L629.10 265.58 L629.60 265.49 L630.10 265.47 L630.60 265.51 L631.10 265.44 L631.60 265.46 L632.10 265.41 L632.60 265.43 L633.10 265.44 L633.60 265.38 L634.10 265.35 L634.60 265.36 L635.10 265.35 L635.60 265.27 L636.10 265.26 L636.60 265.19 L637.10 264.77 L637.60 263.91 L638.10 263.35 L638.60 263.67 L639.10 264.69 L639.60 265.35 L640.10 265.63 L640.60 265.71 L641.10 265.76 L641.60 265.77 L642.10 265.84 L642.60 265.79 L643.10 265.79 L643.60 265.85 L644.10 265.85 L644.60 265.83 L645.10 265.77 L645.60 265.78 L646.10 265.80 L646.60 265.78 L647.10 265.78 L647.60 265.77 L648.10 265.77 L648.60 265.82 L649.10 265.81 L649.60 265.79 L650.10 265.80 L650.60 265.81 L651.10 265.82 L651.60 265.75 L652.10 265.83 L652.60 265.80 L653.10 265.78 L653.60 265.85 L654.10 265.83 L654.60 265.79 L655.10 265.75 L655.60 265.79 L656.10 265.79 L656.60 265.79 L657.10 265.76 L657.60 265.81 L658.10 265.78 L658.60 265.83 L659.10 265.80 L659.60 265.78 L660.10 265.83 L660.60 265.79 L661.10 265.76 L661.60 265.78 L662.10 265.76 L662.60 265.79 L663.10 265.84 L663.60 265.84 L664.10 265.82 L664.60 265.77 L665.10 265.77 L665.60 265.77 L666.10 265.79 L666.60 265.81 L667.10 265.75 L667.60 265.80 L668.10 265.79 L668.60 265.82 L669.10 265.83 L669.60 265.79 L670.10 265.81 L670.60 265.78 L671.10 265.80 L671.60 265.81 L672.10 265.76 L672.60 265.80 L673.10 265.80 L673.60 265.77 L674.10 265.77 L674.60 265.83 L675.10 265.78 L675.60 265.77 L676.10 265.78 L676.60 265.80 L677.10 265.79 L677.60 265.79 L678.10 265.78 L678.60 265.77 L679.10 265.80 L679.60 265.81 L680.10 265.76 L680.60 265.81 L681.10 265.78 L681.60 265.85 L682.10 265.84 L682.60 265.76 L683.10 265.82 L683.60 265.78"/>
</g>
<g>
<text x="51.0" y="13.3" text-anchor="end" style="font-size:17.6px">0.2</text>
<text x="51.0" y="106.3" text-anchor="end" style="font-size:17.6px">0.1</text>
<text x="51.0" y="199.6" text-anchor="end" style="font-size:17.6px">0.0</text>
<text x="51.0" y="292.8" text-anchor="end" style="font-size:17.6px">−0.1</text>
<text x="51.0" y="385.9" text-anchor="end" style="font-size:17.6px">−0.2</text>
<text x="105.0" y="406.2" text-anchor="middle" style="font-size:17.6px">2280</text>
<text x="200.8" y="406.2" text-anchor="middle" style="font-size:17.6px">1680</text>
<text x="283.9" y="406.2" text-anchor="middle" style="font-size:17.6px">1640</text>
<text x="379.8" y="406.2" text-anchor="middle" style="font-size:17.6px">1240</text>
<text x="463.7" y="406.2" text-anchor="middle" style="font-size:17.6px">1200</text>
<text x="558.9" y="406.2" text-anchor="middle" style="font-size:17.6px">1120</text>
<text x="642.8" y="406.2" text-anchor="middle" style="font-size:17.6px">1080</text>
<text x="129.8" y="29.0" text-anchor="middle" style="font-size:17.0px">c</text>
<text x="130.5" y="201.1" text-anchor="middle" style="font-size:17.0px">c</text>
<text x="272.4" y="224.4" text-anchor="middle" style="font-size:17.0px">b</text>
<text x="425.5" y="234.4" text-anchor="middle" style="font-size:17.0px">b</text>
<text x="557.9" y="229.2" text-anchor="middle" style="font-size:17.0px">b</text>
<text x="291.5" y="374.0" text-anchor="middle" style="font-size:17.0px">a</text>
<text x="466.6" y="294.1" text-anchor="middle" style="font-size:17.0px">a</text>
<text x="620.4" y="294.8" text-anchor="middle" style="font-size:17.0px">a</text>
<text x="67.9" y="94.3" text-anchor="start" style="font-size:17.5px">(B)</text>
<text x="70.2" y="256.5" text-anchor="start" style="font-size:17.5px">(A)</text>
<path d="M484.65 85.10L490.75 91.20M484.65 91.20L490.75 85.10" stroke="#000" stroke-width="2.25" fill="none"/>
<text x="493.3" y="94.6" style="font-size:17.6px">5</text>
<path d="M660.35 85.10L666.45 91.20M660.35 91.20L666.45 85.10" stroke="#000" stroke-width="2.25" fill="none"/>
<text x="669.0" y="94.6" style="font-size:17.6px">5</text>
<path d="M486.25 249.00L492.35 255.10M486.25 255.10L492.35 249.00" stroke="#000" stroke-width="2.25" fill="none"/>
<text x="494.9" y="258.5" style="font-size:17.6px">5</text>
<path d="M661.85 249.00L667.95 255.10M661.85 255.10L667.95 249.00" stroke="#000" stroke-width="2.25" fill="none"/>
<text x="670.5" y="258.5" style="font-size:17.6px">5</text>
<text x="309.4" y="437.6" text-anchor="start" style="font-size:17.3px">Wavenumber / cm<tspan dy="-6.2" font-size="12">−1</tspan></text>
<text transform="translate(13.0,202.1) rotate(-90) scale(1.14,1)" text-anchor="middle" style="font-size:17px">Δ</text><text transform="translate(13.0,185.0) rotate(-90)" text-anchor="middle" style="font-size:17px;font-style:italic">A</text>
</g>
</svg>
</body></html>
